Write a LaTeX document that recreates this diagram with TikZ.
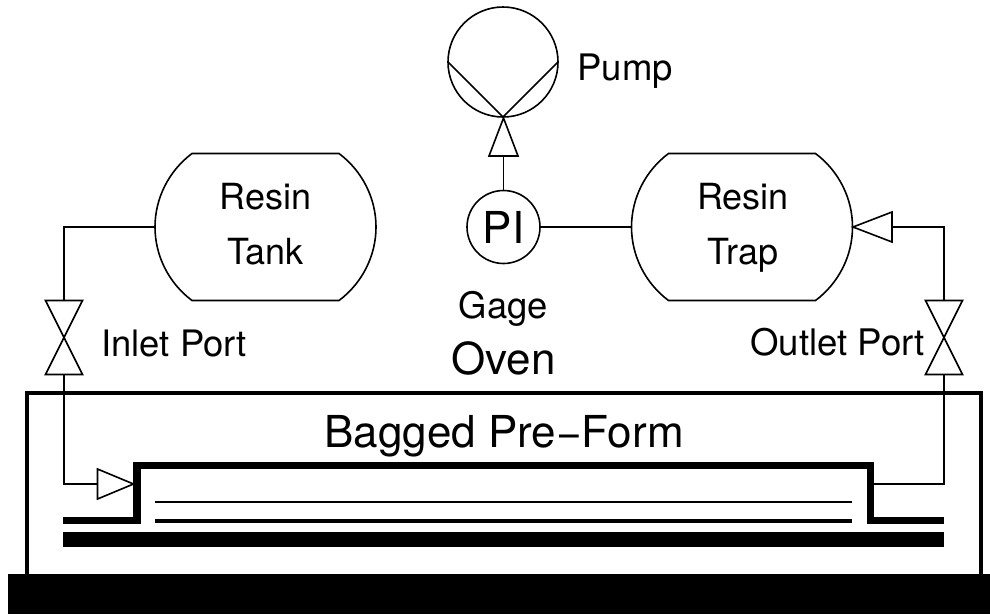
\documentclass[tikz,border=0pt]{standalone}
\usepackage{fontspec}
\setmainfont{TeX Gyre Heros}
\newcommand{\fs}[1]{\fontsize{#1}{#1}\selectfont}
\tikzset{
  thinline/.style={line width=1.6pt},
  txt/.style={inner sep=0pt,outer sep=0pt,anchor=base,text=black},
  hold/.style={inner sep=0pt,outer sep=0pt,draw=none},
  vesselbox/.style={hold,minimum width=221pt,minimum height=147pt},
  valvebox/.style={hold,minimum width=37pt,minimum height=74pt},
  headh/.style={hold,minimum width=36pt,minimum height=30pt},
  headv/.style={hold,minimum width=29pt,minimum height=38pt},
  round/.style={circle,draw,thinline,inner sep=0pt,outer sep=0pt},
}
\newcommand{\vesseloutline}[1]{%
  \draw[thinline] ([xshift=37pt]#1.north west) -- ([xshift=-37pt]#1.north east)
    .. controls ([xshift=-13.9pt,yshift=-17.3pt]#1.north east) and ([yshift=28.9pt]#1.east) .. (#1.east)
    .. controls ([yshift=-28.9pt]#1.east) and ([xshift=-13.9pt,yshift=17.3pt]#1.south east) .. ([xshift=-37pt]#1.south east)
    -- ([xshift=37pt]#1.south west)
    .. controls ([xshift=13.9pt,yshift=17.3pt]#1.south west) and ([yshift=-28.9pt]#1.west) .. (#1.west)
    .. controls ([yshift=28.9pt]#1.west) and ([xshift=13.9pt,yshift=-17.3pt]#1.north west) .. ([xshift=37pt]#1.north west) -- cycle;}
\newcommand{\valveoutline}[1]{%
  \draw[thinline] (#1.north west) -- (#1.north east) -- (#1.south west) -- (#1.south east) -- cycle;}
\begin{document}
\begin{tikzpicture}[x=1pt,y=-1pt]
\useasboundingbox (0,0) rectangle (990,614);
% oven and base
\draw[line width=4.4pt] (26.7,575) -- (26.7,392.7) -- (980.7,392.7) -- (980.7,575);
\fill (8,574) rectangle (990,614);
% bag
\draw[line width=7.2pt] (63.3,520.8) -- (137,520.8) -- (137,465.7) -- (870.5,465.7) -- (870.5,520.8) -- (944,520.8);
\fill (63.3,531.7) rectangle (944,546.7);
\draw[line width=1.6pt] (155,502) -- (852,502);
\draw[line width=3.6pt] (155,520.8) -- (852,520.8);
\coordinate (bagR) at (870.5,484);
% pump, gauge
\node[round,minimum size=110pt] (pump) at (503,62) {};
\draw[thinline] (pump.west) -- (pump.south) -- (pump.east);
\node[round,minimum size=73pt,font=\fs{44}] (pi) at (503.5,227) {PI};
\node[headv] (hp) at (503.5,137) {};
\draw[thinline] (hp.north) -- (hp.south west) -- (hp.south east) -- cycle;
\draw[thinline] (pi.north) -- (hp.south);
% vessels
\node[vesselbox] (tank) at (265.5,227) {};
\vesseloutline{tank}
\node[vesselbox] (trap) at (742,227) {};
\vesseloutline{trap}
\node[txt,font=\fs{36}] (tank1) at (265.5,209) {Resin};
\node[txt,font=\fs{36}] (tank2) at (265.5,264) {Tank};
\node[txt,font=\fs{36}] (trap1) at (743,209) {Resin};
\node[txt,font=\fs{36}] (trap2) at (743,264) {Trap};
% valves
\node[valvebox] (vl) at (64,337.5) {};
\valveoutline{vl}
\node[valvebox] (vr) at (944,337.5) {};
\valveoutline{vr}
% arrow heads
\node[headh] (hl) at (115.5,484) {};
\draw[thinline] (hl.north west) -- (hl.east) -- (hl.south west) -- cycle;
\node[hold,minimum width=39pt,minimum height=30pt] (hr) at (872.5,227) {};
\draw[thinline] (hr.north east) -- (hr.west) -- (hr.south east) -- cycle;
% connectors
\draw[thinline] (pi.east) -- (trap.west);
\draw[thinline] (tank.west) -| (vl.north);
\draw[thinline] (vl.south) |- (hl.west);
\draw[thinline] (vr.north) |- (hr.east);
\draw[thinline] (vr.south) |- (bagR);
% labels
\node[txt,anchor=base west,font=\fs{36.5}] (lpump) at (577.5,80) {Pump};
\node[txt,font=\fs{36.4}] (lgage) at (503.5,318) {Gage};
\node[txt,font=\fs{44}] (loven) at (503.5,374) {Oven};
\node[txt,font=\fs{44}] (lbag) at (504,447) {Bagged Pre\textminus Form};
\node[txt,anchor=base west,font=\fs{36.4}] (lin) at (101.5,356) {Inlet Port};
\node[txt,anchor=base east,font=\fs{36.6}] (lout) at (925,355) {Outlet Port};
\end{tikzpicture}
\end{document}
